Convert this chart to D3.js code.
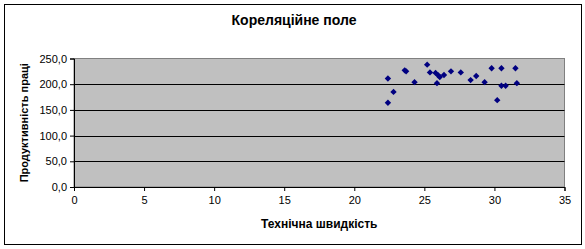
<!DOCTYPE html>
<meta charset="utf-8">
<script src="https://d3js.org/d3.v7.min.js"></script>
<style>
  body { margin: 0; background: #fff; }
  text { font-family: "Liberation Sans", Arial, sans-serif; }
</style>
<svg id="chart" width="585" height="249"></svg>
<script>

// Технічна швидкість
var speed = [22.4, 22.8, 22.4, 23.6, 23.7, 24.3, 25.2, 25.4, 25.8, 26.0, 26.1, 25.9, 26.4,
             26.9, 27.6, 28.3, 28.7, 29.3, 29.8, 30.5, 30.2, 30.5, 30.8, 31.5, 31.6];
// Продуктивність праці
var productivity = [211, 185, 164, 227, 225, 204, 238, 223, 222, 217, 214, 202, 218,
                    225, 223, 208, 216, 204, 231, 231, 169, 197, 197, 231, 202];

var xTicks = [0, 5, 10, 15, 20, 25, 30, 35];
var yTicks = [0, 50, 100, 150, 200, 250];

var svg = d3.select("#chart");

var margin = {left: 74, right: 20.5, top: 58.5, bottom: 62};
var W = 585, H = 249;

var x = d3.scaleLinear().domain([0, 35]).range([margin.left, W - margin.right]);
var y = d3.scaleLinear().domain([0, 250]).range([H - margin.bottom, margin.top]);

// outer frame
svg.append("rect")
  .attr("x", 4.5).attr("y", 4.5)
  .attr("width", 577).attr("height", 240)
  .attr("fill", "#fff").attr("stroke", "#000").attr("stroke-width", 1);

// plot area
svg.append("rect")
  .attr("x", x(0)).attr("y", y(250))
  .attr("width", x(35) - x(0)).attr("height", y(0) - y(250))
  .attr("fill", "#c0c0c0").attr("stroke", "#808080").attr("stroke-width", 1);

// gridlines
svg.append("g")
  .selectAll("line")
  .data(yTicks.filter(function(d){ return d > 0 && d < 250 }))
  .enter()
  .append("line")
    .attr("x1", x(0)).attr("x2", x(35))
    .attr("y1", function(d){ return Math.round(y(d)) + 0.5 })
    .attr("y2", function(d){ return Math.round(y(d)) + 0.5 })
    .attr("stroke", "#000");

// axes
var yAxis = svg.append("g")
  .attr("transform", "translate(" + x(0) + ",0)")
  .call(d3.axisLeft(y).tickValues(yTicks).tickSizeOuter(0).tickSize(4).tickPadding(3)
    .tickFormat(function(d){ return d3.format(".1f")(d).replace(".", ",") }));

var xAxis = svg.append("g")
  .attr("transform", "translate(0," + y(0) + ")")
  .call(d3.axisBottom(x).tickValues(xTicks).tickSizeOuter(0).tickSize(4).tickPadding(5));

[xAxis, yAxis].forEach(function(a){
  a.select(".domain").attr("stroke", "#000");
  a.selectAll(".tick line").attr("stroke", "#000");
  a.selectAll("text")
    .attr("fill", "#000")
    .style("font-family", "'Liberation Sans', Arial, sans-serif")
    .style("font-size", "11px");
});

// points
var diamond = d3.symbol().type(d3.symbolDiamond2).size(26);
svg.append("g")
  .selectAll("path")
  .data(speed.map(function(s, i){ return {x: s, y: productivity[i]} }))
  .enter()
  .append("path")
    .attr("d", diamond)
    .attr("transform", function(d){ return "translate(" + x(d.x) + "," + y(d.y) + ")" })
    .attr("fill", "#000080");

// title
svg.append("text")
  .attr("x", 294).attr("y", 25)
  .attr("text-anchor", "middle")
  .style("font-size", "14px").style("font-weight", "bold")
  .text("Кореляційне поле");

// axis titles
svg.append("text")
  .attr("x", (x(0) + x(35)) / 2).attr("y", 228)
  .attr("text-anchor", "middle")
  .style("font-size", "12px").style("font-weight", "bold")
  .text("Технічна швидкість");

svg.append("text")
  .attr("transform", "translate(28," + ((y(0) + y(250)) / 2) + ") rotate(-90)")
  .attr("text-anchor", "middle")
  .style("font-size", "11px").style("font-weight", "bold")
  .text("Продуктивність праці");

</script>
